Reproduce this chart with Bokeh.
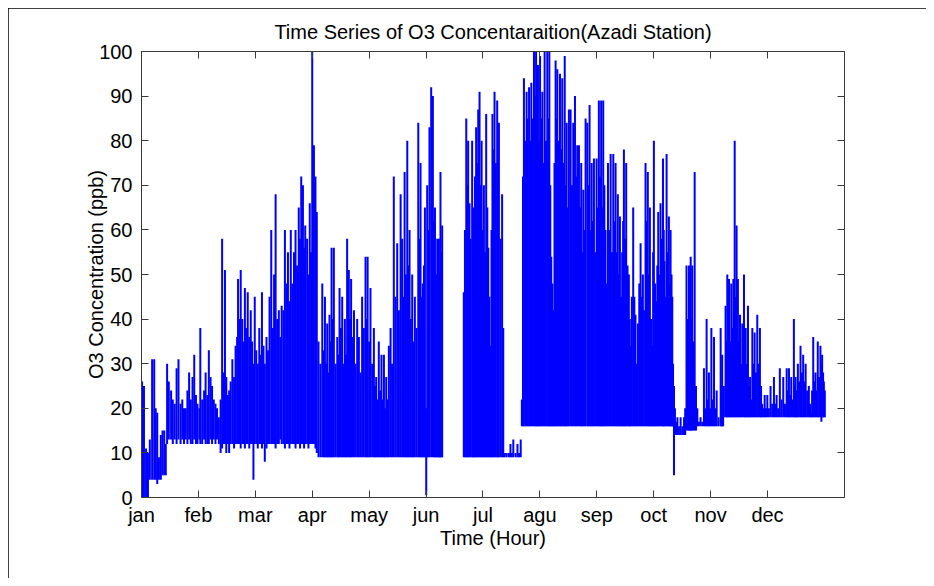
import numpy as np
from bokeh.plotting import figure
from bokeh.models import Range1d, FixedTicker, LinearAxis, ColumnDataSource
from bokeh.embed import file_html
from bokeh.resources import INLINE

# ---------------- data ----------------
month_labels = ["jan", "feb", "mar", "apr", "may", "jun",
                "jul", "agu", "sep", "oct", "nov", "dec"]
month_tick_hours = [0, 720, 1440, 2160, 2880, 3600, 4320, 5040, 5760, 6480, 7200, 7920]
y_ticks = [0, 10, 20, 30, 40, 50, 60, 70, 80, 90, 100]

# day of year of each sampled daily spike, with its low (floor) and high (peak) in ppb
day = [
    # jan
    0.3, 1.3, 2.4, 3.4, 4.4, 5.6, 6.7, 7.5, 8.3, 9.2, 10.2, 11.1, 12.0, 12.8,
    # feb
    13.5, 14.4, 15.6, 16.5, 17.5, 18.5, 19.5, 20.6, 21.5, 22.4,
    23.3, 24.2, 25.1, 26.0, 26.9, 27.8, 28.7, 29.5, 30.5, 31.0,
    32.0, 33.0, 33.8, 34.7, 35.5, 36.4, 37.2, 38.1, 39.0, 39.8,
    40.8, 41.7, 42.5, 43.3, 44.0, 44.7, 45.5, 46.2, 47.0, 47.9,
    48.8, 49.6, 50.4, 50.9, 51.6, 52.3, 53.1, 53.8, 54.5, 55.2,
    56.0, 56.8, 57.6, 58.3,
    # mar
    59.0, 59.7, 60.5, 61.3, 62.1, 62.9, 63.5, 64.3, 65.0, 65.9,
    66.7, 67.5, 68.4, 69.2, 69.9, 70.7, 71.5, 72.4, 73.2, 73.9,
    74.8, 75.6, 76.5, 77.2, 78.0, 78.7, 79.5, 80.4, 81.2, 82.0,
    82.9, 83.6, 84.2, 85.1, 85.7, 86.3, 87.3, 88.0, 88.7, 89.4,
    90.0, 90.9, 91.7, 92.4,
    # apr - jun
    93.3, 94.3, 95.3, 96.0, 96.7, 97.4, 97.9, 98.5, 99.1, 99.7,
    100.2, 100.8, 101.4, 102.3, 103.2, 103.8, 104.4, 105.1, 105.8, 106.5,
    107.2, 107.8, 108.4, 109.3, 109.9, 110.5, 111.2, 112.0, 112.8, 113.7,
    114.6, 115.4, 116.3, 117.2, 118.1, 118.6, 119.2, 120.0, 120.7, 121.6,
    122.5, 123.1, 123.7, 124.4, 125.1, 125.8, 126.5, 127.2, 127.8, 128.4,
    129.0, 129.7, 130.4, 131.3, 132.1, 133.0, 133.9, 134.8, 135.7, 136.6,
    137.4, 138.1, 138.7, 139.4, 140.1, 140.7, 141.3, 142.0, 142.7, 143.4,
    144.1, 145.0, 145.9, 146.5, 147.1, 147.7, 148.3, 148.9, 149.4, 150.1,
    150.6, 151.2, 151.8, 152.7, 153.6, 154.2, 154.7, 155.3, 155.9, 156.4,
    156.8, 157.2, 157.6, 158.1, 158.5,
    # jul
    169.9, 170.5, 171.2, 171.7, 172.2, 172.9, 173.5, 174.3, 174.8, 175.2,
    175.8, 176.4, 177.0, 177.5, 178.2, 178.8, 179.3, 179.9, 180.5, 181.1,
    181.7, 182.3, 182.8, 183.4, 184.0, 184.5, 185.0, 185.5, 186.1, 186.8,
    187.5, 188.0, 188.4, 189.3, 190.1, 190.7,
    # late jul
    191.5, 192.5, 193.7, 194.5, 195.2, 196.0, 197.2, 198.2, 199.0, 199.9,
    # agu - oct
    200.5, 201.1, 201.6, 202.3, 203.0, 203.6, 204.3, 204.9, 205.5, 206.2,
    206.9, 207.5, 208.0, 208.5, 209.0, 209.5, 210.1, 210.7, 211.3, 211.9,
    212.5, 213.2, 213.9, 214.5, 215.0, 215.5, 216.0, 216.6, 217.1, 217.7,
    218.3, 218.8, 219.2, 219.9, 220.6, 221.2, 221.8, 222.5, 223.1, 223.6,
    224.1, 224.7, 225.3, 226.2, 226.9, 227.6, 228.5, 229.1, 229.7, 230.6,
    231.2, 231.8, 232.3, 232.9, 233.5, 234.1, 235.0, 235.6, 236.2, 236.8,
    237.3, 238.0, 238.5, 239.2, 239.9, 240.5, 241.1, 241.7, 242.3, 242.9,
    243.4, 244.0, 244.6, 245.2, 245.9, 246.6, 247.3, 248.0, 248.7, 249.3,
    249.9, 250.5, 251.1, 251.7, 252.2, 252.8, 253.4, 253.9, 254.3, 254.9,
    255.5, 256.2, 256.9, 257.4, 257.8, 258.5, 259.2, 259.8, 260.4, 261.0,
    261.7, 262.4, 263.1, 263.7, 264.3, 265.0, 265.7, 266.3, 266.9, 267.5,
    268.0, 268.6, 269.2, 269.7, 270.1, 270.7, 271.3, 271.9, 272.4, 273.0,
    273.6, 274.3, 274.9, 275.3, 275.7, 276.2, 276.8, 277.4, 278.0, 278.5,
    278.9, 279.4, 279.8, 280.2,
    # oct
    280.7, 281.2, 281.8, 282.5, 283.3, 284.2, 285.1, 286.0, 286.6, 287.3,
    288.0, 288.6, 289.1, 289.5, 289.9, 290.3, 290.9, 291.6, 292.3, 293.0,
    293.8, 294.7, 295.6, 296.5, 297.2, 297.9, 298.5, 299.1, 299.7, 300.4,
    301.1, 301.8, 302.5, 303.2, 304.2, 305.3, 305.7, 306.1, 306.6,
    # nov
    307.0, 307.9, 308.4, 308.8, 309.3, 309.7, 310.3, 310.9, 311.5, 312.0,
    312.7, 313.2, 313.7, 314.4, 314.9, 315.5, 316.1, 316.7, 317.6, 318.0,
    318.5, 319.1, 319.7, 320.3, 320.8, 321.4, 322.0, 322.6, 323.2, 323.9,
    324.6, 325.3, 326.0, 326.6, 327.2, 327.9, 328.5,
    # dec
    329.2, 329.9, 330.7, 331.6, 332.5, 333.4, 334.1, 334.8, 335.6, 336.5,
    337.4, 338.3, 339.2, 340.1, 340.7, 341.3, 341.9, 342.5, 343.2, 343.9,
    344.4, 344.8, 345.4, 346.0, 346.7, 347.4, 348.1, 348.8, 349.5, 350.1,
    350.9, 351.8, 352.4, 353.0, 353.5, 354.1, 354.7, 355.3, 355.9, 356.5,
    357.2, 357.9, 358.4, 358.8, 359.3, 359.7, 360.2,
]

low = [
    # jan
    0, 0, 0, 0, 4, 4, 4, 4, 3, 4, 4, 5, 5, 5,
    # feb
    12, 13, 13, 12, 13, 12, 13, 12, 13, 12,
    13, 12, 13, 12, 12, 13, 12, 12, 13, 12,
    12, 13, 12, 12, 12, 13, 12, 13, 12, 13,
    12, 10, 11, 12, 12, 10, 12, 10, 12, 12,
    11, 12, 12, 12, 12, 11, 12, 12, 11, 12,
    12, 11, 12, 12,
    # mar
    4, 12, 12, 11, 12, 12, 11, 12, 8, 11,
    12, 12, 12, 12, 12, 11, 12, 12, 13, 12,
    12, 11, 12, 12, 11, 12, 12, 12, 11, 12,
    12, 11, 12, 12, 11, 12, 12, 11, 12, 12,
    12, 12, 11, 10,
    # apr - jun
    9, 9, 9, 9, 9, 9, 9, 9, 9, 9,
    9, 9, 9, 9, 9, 9, 9, 9, 9, 9,
    9, 9, 9, 9, 9, 9, 9, 9, 9, 9,
    9, 9, 9, 9, 9, 9, 9, 9, 9, 9,
    9, 9, 9, 9, 9, 9, 9, 9, 9, 9,
    9, 9, 9, 9, 9, 9, 9, 9, 9, 9,
    9, 9, 9, 9, 9, 9, 9, 9, 9, 9,
    9, 9, 9, 9, 9, 9, 9, 9, 9, 0.5,
    9, 9, 9, 9, 9, 9, 9, 9, 9, 9,
    9, 9, 9, 9, 9,
    # jul
    9, 9, 9, 9, 9, 9, 9, 9, 9, 9,
    9, 9, 9, 9, 9, 9, 9, 9, 9, 9,
    9, 9, 9, 9, 9, 9, 9, 9, 9, 9,
    9, 9, 9, 9, 9, 9,
    # late jul
    9, 9, 9, 9, 9, 9, 9, 9, 9, 9,
    # agu - oct
    16, 16, 16, 16, 16, 16, 16, 16, 16, 16,
    16, 16, 16, 16, 16, 16, 16, 16, 16, 16,
    16, 16, 16, 16, 16, 16, 16, 16, 16, 16,
    16, 16, 16, 16, 16, 16, 16, 16, 16, 16,
    16, 16, 16, 16, 16, 16, 16, 16, 16, 16,
    16, 16, 16, 16, 16, 16, 16, 16, 16, 16,
    16, 16, 16, 16, 16, 16, 16, 16, 16, 16,
    16, 16, 16, 16, 16, 16, 16, 16, 16, 16,
    16, 16, 16, 16, 16, 16, 16, 16, 16, 16,
    16, 16, 16, 16, 16, 16, 16, 16, 16, 16,
    16, 16, 16, 16, 16, 16, 16, 16, 16, 16,
    16, 16, 16, 16, 16, 16, 16, 16, 16, 16,
    16, 16, 16, 16, 16, 16, 16, 16, 16, 16,
    16, 16, 16, 16,
    # oct
    5, 14, 14, 14, 14, 14, 14, 14, 14, 15,
    15, 15, 15, 15, 15, 15, 15, 15, 15, 16,
    16, 16, 16, 16, 16, 16, 16, 16, 16, 16,
    16, 16, 16, 16, 16, 16, 16, 16, 16,
    # nov
    18, 18, 18, 18, 18, 18, 18, 18, 18, 18,
    18, 18, 18, 18, 18, 18, 18, 18, 18, 18,
    18, 18, 18, 18, 18, 18, 18, 18, 18, 18,
    18, 18, 18, 18, 18, 18, 18,
    # dec
    18, 18, 18, 18, 18, 18, 18, 18, 18, 18,
    18, 18, 18, 18, 18, 18, 18, 18, 18, 18,
    18, 18, 18, 18, 18, 18, 18, 18, 18, 18,
    18, 18, 18, 18, 18, 18, 18, 18, 18, 18,
    18, 18, 17, 18, 18, 18, 18,
]

high = [
    # jan
    26, 25, 11, 10, 13, 31, 31, 20, 19, 9, 14, 15, 15, 12,
    # feb
    30, 26, 24, 22, 21, 29, 31, 21, 22, 20,
    20, 24, 28, 22, 27, 32, 23, 21, 20, 38,
    22, 24, 28, 23, 33, 27, 25, 22, 21, 20,
    18, 22, 58, 28, 51, 27, 23, 24, 26, 31,
    27, 34, 36, 49, 40, 51, 40, 35, 47, 38,
    46, 36, 42, 35,
    # mar
    30, 45, 33, 30, 38, 32, 46, 34, 30, 36,
    33, 45, 60, 38, 50, 68, 40, 42, 36, 43,
    42, 60, 48, 55, 44, 60, 48, 55, 60, 52,
    65, 58, 72, 70, 56, 61, 58, 50, 66, 55,
    100, 79, 72, 64,
    # apr - jun
    35, 30, 48, 33, 45, 30, 39, 28, 41, 35,
    56, 40, 56, 30, 36, 32, 47, 38, 45, 30,
    40, 32, 58, 51, 40, 49, 36, 42, 30, 40,
    36, 28, 45, 38, 54, 40, 54, 35, 47, 30,
    38, 25, 27, 22, 35, 24, 32, 22, 32, 20,
    27, 22, 34, 38, 30, 72, 45, 57, 42, 68,
    58, 45, 73, 50, 80, 52, 60, 40, 50, 35,
    45, 38, 84, 58, 75, 45, 48, 52, 65, 20,
    70, 60, 83, 92, 90, 62, 65, 50, 58, 48,
    58, 50, 73, 55, 61,
    # jul
    46, 60, 85, 70, 80, 66, 58, 80, 65, 62,
    72, 83, 75, 87, 91, 70, 80, 60, 70, 55,
    86, 65, 56, 45, 34, 60, 86, 78, 91, 75,
    89, 70, 84, 58, 68, 38,
    # late jul
    10, 10, 10, 12, 10, 13, 10, 12, 10, 13,
    # agu - oct
    22, 72, 94, 80, 91, 85, 92, 80, 93, 85,
    100, 90, 100, 88, 97, 80, 99, 85, 91, 75,
    100, 80, 100, 85, 100, 70, 54, 48, 42, 75,
    98, 85, 96, 80, 95, 78, 94, 75, 99, 70,
    84, 65, 87, 87, 70, 84, 90, 72, 79, 79,
    65, 75, 55, 69, 60, 85, 84, 70, 88, 60,
    75, 62, 76, 55, 76, 65, 89, 72, 89, 65,
    89, 70, 60, 48, 75, 60, 77, 55, 77, 62,
    75, 55, 68, 50, 63, 45, 55, 62, 78, 58,
    75, 52, 50, 40, 34, 45, 65, 45, 41, 30,
    39, 48, 57, 45, 50, 42, 75, 62, 73, 50,
    65, 40, 34, 55, 80, 48, 44, 52, 64, 50,
    66, 58, 76, 60, 53, 45, 77, 55, 63, 48,
    60, 50, 45, 30,
    # oct
    25, 20, 17, 18, 16, 18, 16, 18, 20, 52,
    40, 52, 45, 54, 40, 52, 35, 73, 25, 20,
    17, 18, 17, 29, 20, 40, 22, 28, 20, 38,
    22, 36, 20, 24, 18, 38, 25, 32, 20,
    # nov
    25, 43, 35, 50, 40, 49, 35, 48, 38, 49,
    80, 45, 61, 49, 35, 41, 30, 39, 50, 33,
    38, 30, 43, 25, 27, 22, 38, 30, 37, 28,
    41, 30, 38, 25, 21, 20, 23,
    # dec
    20, 23, 20, 25, 21, 27, 21, 23, 20, 29,
    22, 27, 21, 29, 24, 29, 23, 27, 22, 40,
    25, 27, 24, 30, 26, 34, 28, 32, 26, 30,
    24, 25, 21, 19, 24, 36, 26, 28, 24, 35,
    27, 34, 30, 32, 28, 26, 24,
]

# ---------------- plot ----------------
FONT = "Liberation Sans"
AX = "#3a3a3a"

hours = np.array(day) * 24.0
src = ColumnDataSource(data=dict(t=hours,
                                 lo=np.array(low, dtype=float),
                                 hi=np.array(high, dtype=float)))

p = figure(width=918, height=570,
           x_range=Range1d(0, 8894), y_range=Range1d(0, 100),
           output_backend="svg", toolbar_location=None,
           min_border_left=133, min_border_right=82,
           min_border_top=43, min_border_bottom=81,
           title="Time Series of O3 Concentaraition(Azadi Station)")

p.segment(x0="t", y0="lo", x1="t", y1="hi", source=src,
          line_color="#0000FF", line_width=2.0, line_cap="butt")

p.xgrid.visible = False
p.ygrid.visible = False
p.background_fill_color = "white"
p.border_fill_color = "white"
p.outline_line_color = AX
p.outline_line_width = 1

p.title.align = "center"
p.title.text_font = FONT
p.title.text_font_size = "20px"
p.title.text_font_style = "normal"
p.title.text_color = "black"
p.title.standoff = 17

xa = p.below[0]
ya = p.left[0]

def style_axis(ax):
    ax.major_tick_in = 7
    ax.major_tick_out = 0
    ax.minor_tick_line_color = None
    ax.axis_line_color = AX
    ax.major_tick_line_color = AX
    ax.major_label_text_font = FONT
    ax.major_label_text_font_size = "20px"
    ax.major_label_text_color = "black"
    ax.axis_label_text_font = FONT
    ax.axis_label_text_font_size = "20px"
    ax.axis_label_text_font_style = "normal"
    ax.axis_label_text_color = "black"

style_axis(xa)
style_axis(ya)

xa.ticker = FixedTicker(ticks=month_tick_hours)
xa.major_label_overrides = {h: m for h, m in zip(month_tick_hours, month_labels)}
xa.major_label_standoff = 6
xa.axis_label = "Time (Hour)"
xa.axis_label_standoff = -2

ya.ticker = FixedTicker(ticks=y_ticks)
ya.major_label_standoff = 9
ya.axis_label = "O3 Concentration (ppb)"
ya.axis_label_standoff = -11

# mirrored tick marks on the top and right edges of the box (no labels)
top = LinearAxis(ticker=FixedTicker(ticks=month_tick_hours))
style_axis(top)
top.major_label_text_font_size = "0px"
top.major_label_text_color = None
top.major_label_standoff = 0
p.add_layout(top, "above")

right = LinearAxis(ticker=FixedTicker(ticks=y_ticks))
style_axis(right)
right.major_label_text_font_size = "0px"
right.major_label_text_color = None
right.major_label_standoff = 0
p.add_layout(right, "right")

p.styles = {"margin": "8px", "outline": "2px solid black", "outline-offset": "-2px"}

open("out.html", "w").write(file_html(p, INLINE))
